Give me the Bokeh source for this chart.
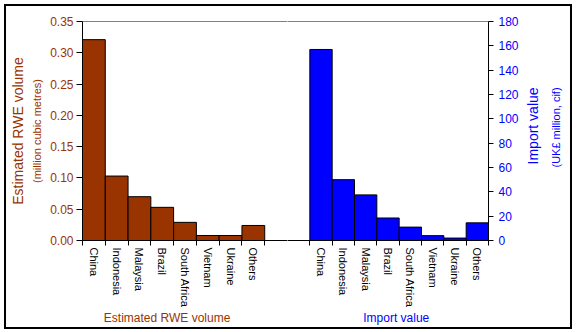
import math
from bokeh.plotting import figure
from bokeh.layouts import row
from bokeh.models import Range1d, LinearAxis, FixedTicker, NumeralTickFormatter
from bokeh.embed import file_html
from bokeh.resources import INLINE

countries = ["China", "Indonesia", "Malaysia", "Brazil", "South Africa", "Vietnam", "Ukraine", "Others"]
rwe_volume = [0.321, 0.103, 0.070, 0.053, 0.029, 0.008, 0.008, 0.024]
import_value = [157, 50, 37.5, 18.5, 11, 4, 2, 14.5]
left_ticks = [0.0, 0.05, 0.10, 0.15, 0.20, 0.25, 0.30, 0.35]
right_ticks = [0, 20, 40, 60, 80, 100, 120, 140, 160, 180]

BROWN = "#993300"
BLUE = "#0000FF"
FONT = "Liberation Sans"

n = len(countries)
half = n + 1            # each panel: 8 category slots + 1 gap slot
left_x = [i + 0.5 for i in range(n)]
right_x = [half + 1 + i + 0.5 for i in range(n)]

H = 321
TOP, BOTTOM = 15, 85
SLOT = 206 / half       # px per slot


def blank_axis(ax):
    ax.major_tick_out = 0
    ax.major_tick_in = 0
    ax.minor_tick_out = 0
    ax.minor_tick_in = 0
    ax.axis_line_color = None


def style_common(p, ticks, minor, labels):
    p.xgrid.visible = False
    p.ygrid.visible = False
    p.outline_line_color = None
    xa = p.xaxis[0]
    xa.ticker = FixedTicker(ticks=ticks, minor_ticks=minor)
    xa.major_label_overrides = {c: lab for c, lab in zip(ticks, labels)}
    xa.major_label_orientation = "vertical"
    xa.major_tick_out = 0
    xa.major_tick_in = 0
    xa.minor_tick_out = 5
    xa.minor_tick_in = 0
    xa.major_label_standoff = 2
    xa.major_label_text_font = FONT
    xa.major_label_text_font_size = "11px"
    xa.major_label_text_color = "black"
    xa.axis_line_color = "black"
    top = LinearAxis(ticker=FixedTicker(ticks=[]))
    blank_axis(top)
    top.axis_line_color = "#808080"
    top.major_label_text_font_size = "0px"
    p.add_layout(top, "above")


def bottom_title(p, text, x, color):
    ax = LinearAxis(ticker=FixedTicker(ticks=[x]))
    blank_axis(ax)
    ax.major_label_overrides = {x: text}
    ax.major_label_text_font = FONT
    ax.major_label_text_font_size = "12px"
    ax.major_label_text_color = color
    ax.major_label_standoff = 0
    p.add_layout(ax, "below")


# ---------------- left panel ----------------
p1 = figure(width=281, height=H, output_backend="svg", toolbar_location=None,
            x_range=Range1d(0, half), y_range=Range1d(0, 0.35),
            min_border_left=75, min_border_right=0, min_border_top=TOP,
            min_border_bottom=BOTTOM)
p1.vbar(x=left_x, top=rwe_volume, width=1, fill_color=BROWN, line_color="black", line_width=1)
style_common(p1, left_x, list(range(0, half + 1)), countries)

ya = p1.yaxis[0]
ya.ticker = FixedTicker(ticks=left_ticks)
ya.formatter = NumeralTickFormatter(format="0.00")
ya.major_tick_out = 6
ya.major_tick_in = 0
ya.minor_tick_out = 0
ya.minor_tick_in = 0
ya.major_label_text_font = FONT
ya.major_label_text_font_size = "12px"
ya.major_label_text_color = BROWN
ya.major_label_standoff = 3
ya.axis_line_color = "black"

for txt, size, standoff in [("(million cubic metres)", "11px", 5),
                            ("Estimated RWE volume", "14px", 2)]:
    ax = LinearAxis(ticker=FixedTicker(ticks=[]))
    blank_axis(ax)
    ax.major_label_text_font_size = "0px"
    ax.axis_label = txt
    ax.axis_label_text_font = FONT
    ax.axis_label_text_font_style = "normal"
    ax.axis_label_text_font_size = size
    ax.axis_label_text_color = BROWN
    ax.axis_label_standoff = standoff
    p1.add_layout(ax, "left")

bottom_title(p1, "Estimated RWE volume", (166 - 81) / SLOT, BROWN)

# ---------------- right panel ----------------
p2 = figure(width=283, height=H, output_backend="svg", toolbar_location=None,
            x_range=Range1d(half, 2 * half), y_range=Range1d(0, 180),
            y_axis_location="right",
            min_border_left=0, min_border_right=77, min_border_top=TOP,
            min_border_bottom=BOTTOM)
p2.vbar(x=right_x, top=import_value, width=1, fill_color=BLUE, line_color="black", line_width=1)
style_common(p2, right_x, list(range(half + 1, 2 * half + 1)), countries)

ra = p2.yaxis[0]
ra.ticker = FixedTicker(ticks=right_ticks)
ra.major_tick_out = 5
ra.major_tick_in = 0
ra.minor_tick_out = 0
ra.minor_tick_in = 0
ra.major_label_text_font = FONT
ra.major_label_text_font_size = "12px"
ra.major_label_text_color = BLUE
ra.major_label_standoff = 5
ra.axis_line_color = "black"

# rotated tick labels used as side titles (anchor position found by trial)
for txt, size, standoff, anchor in [("Import value", "14px", 12, 62.5),
                                    ("(UK\u00a3 million, cif)", "11px", 3, 60)]:
    ax = LinearAxis(ticker=FixedTicker(ticks=[anchor]))
    blank_axis(ax)
    ax.major_label_overrides = {anchor: txt}
    ax.major_label_orientation = math.pi / 2
    ax.major_label_text_font = FONT
    ax.major_label_text_font_size = size
    ax.major_label_text_color = BLUE
    ax.major_label_standoff = standoff
    p2.add_layout(ax, "right")

bottom_title(p2, "Import value", half + (398.5 - 287) / SLOT, BLUE)

layout = row(p1, p2, spacing=0,
             styles={"border": "2px solid black", "margin-left": "4px", "margin-top": "4px"})

open("out.html", "w").write(file_html(layout, INLINE))
